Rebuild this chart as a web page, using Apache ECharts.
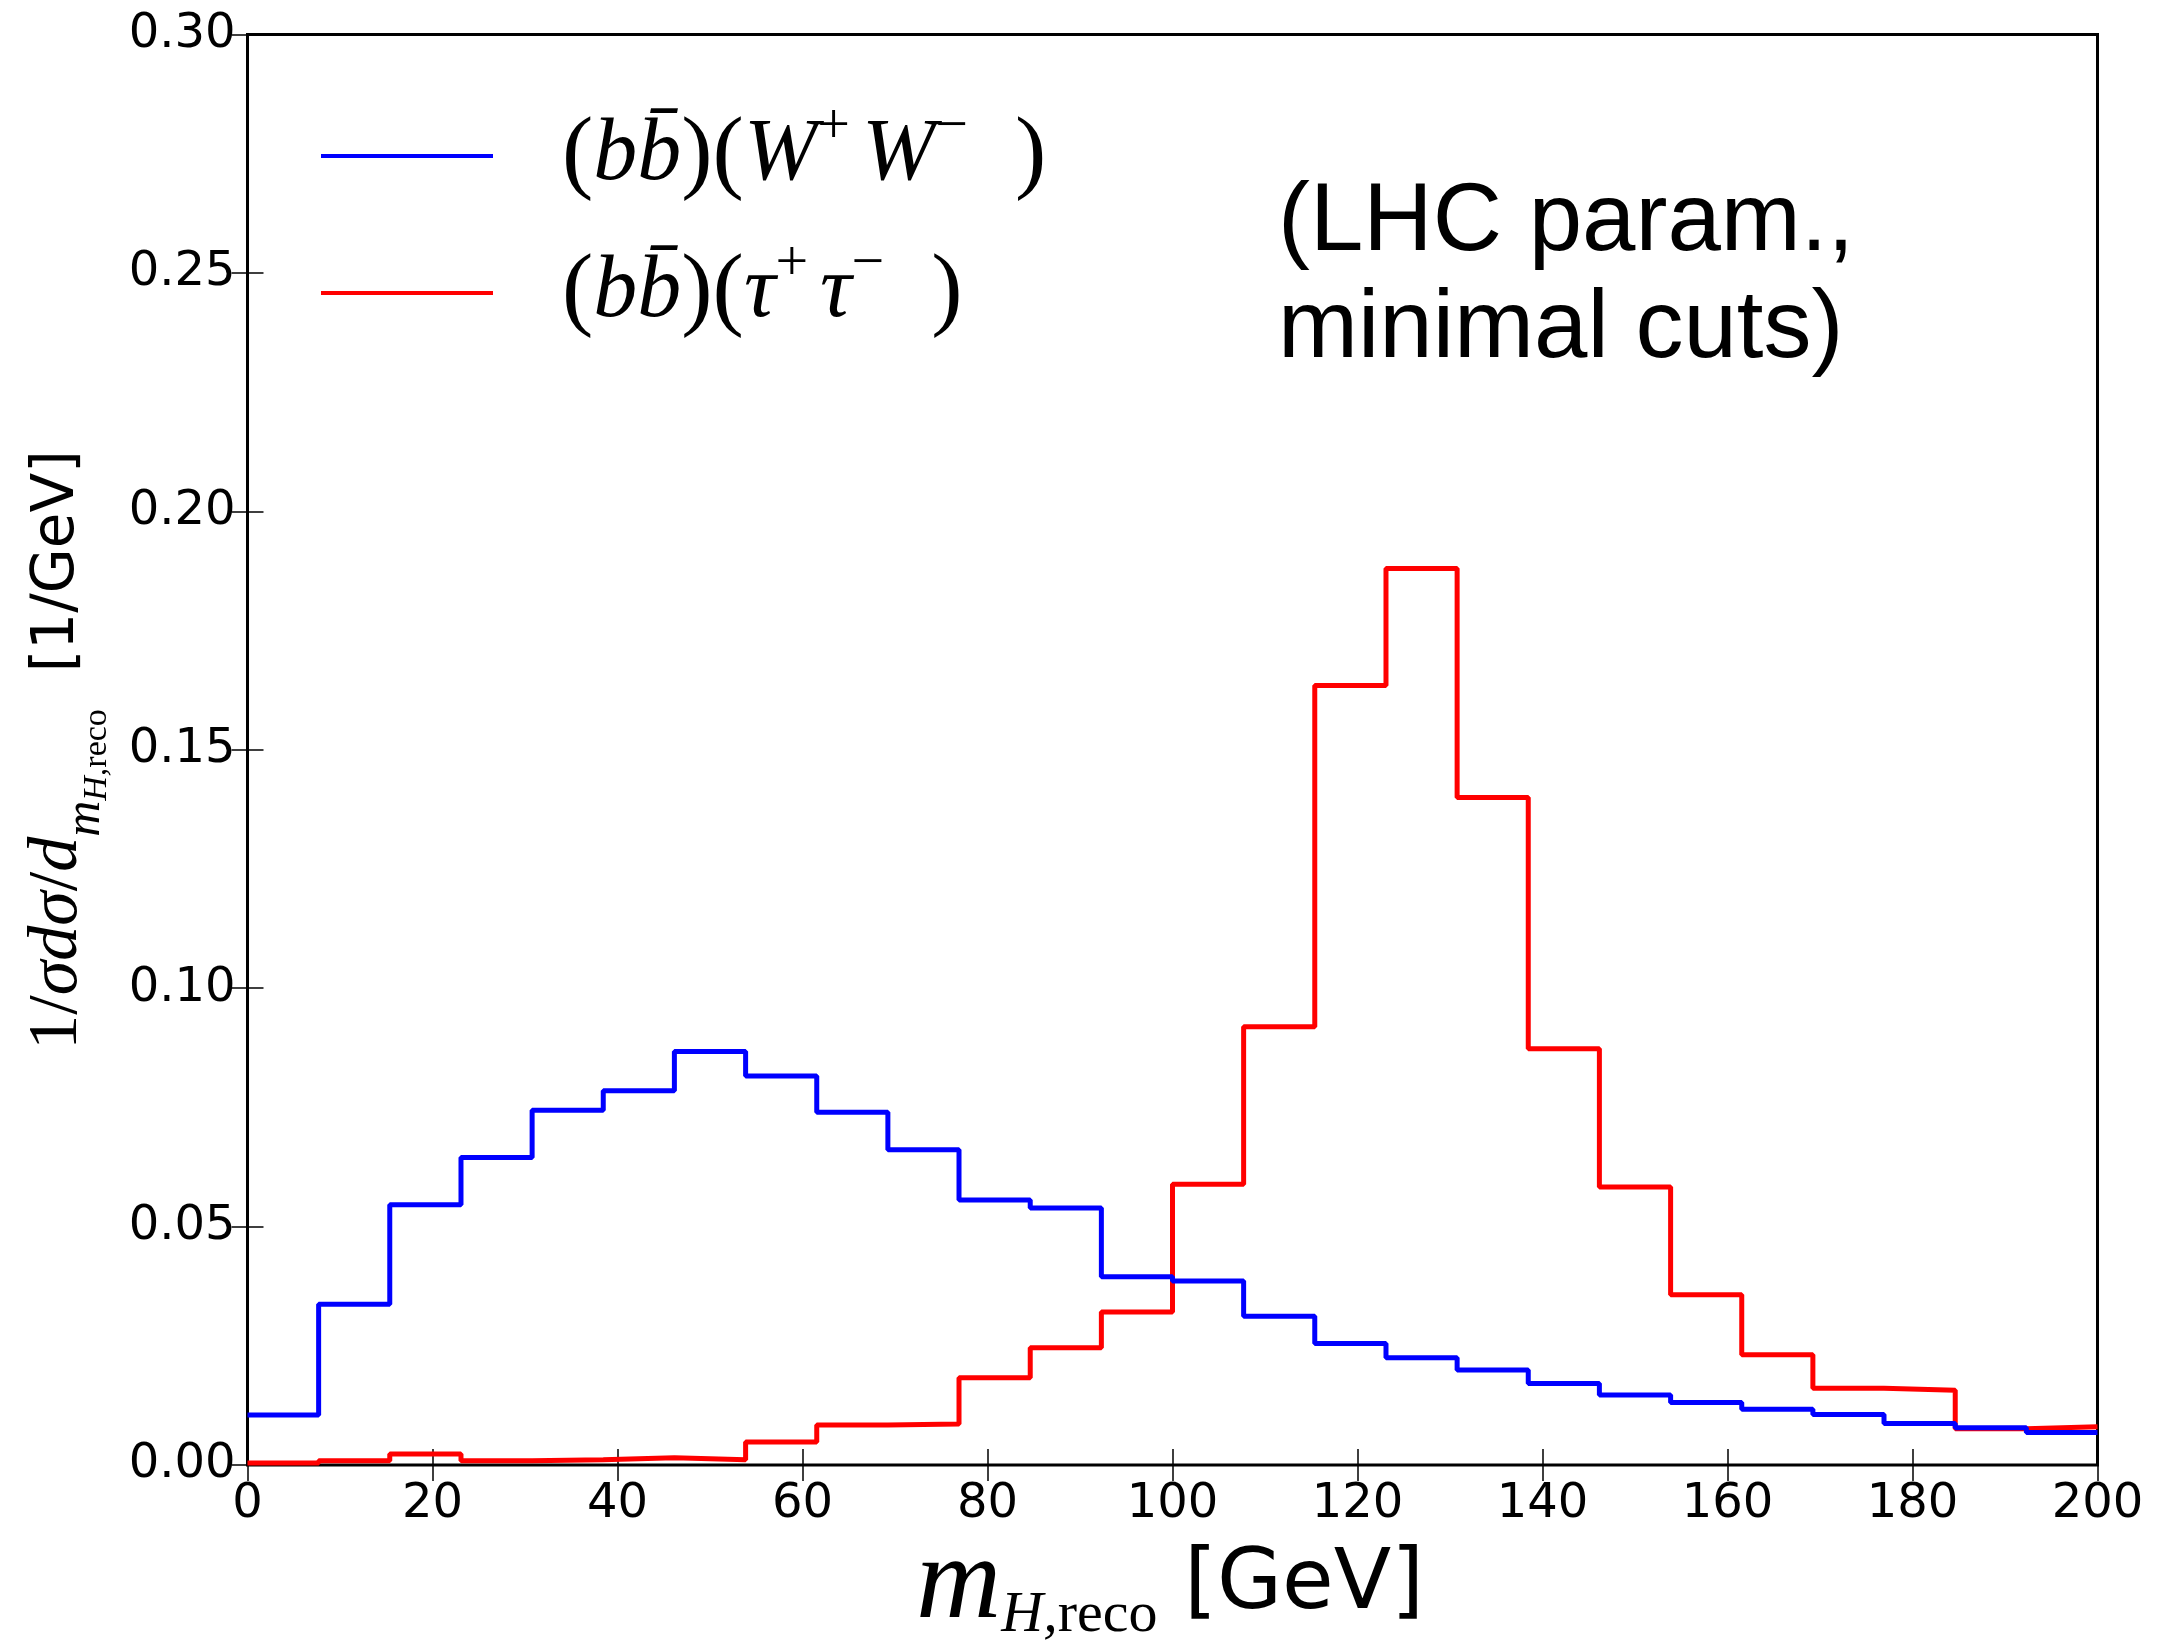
<!DOCTYPE html>
<html>
<head>
<meta charset="utf-8">
<script src="https://cdn.jsdelivr.net/npm/echarts@6/dist/echarts.min.js"></script>
<style>
  html, body { margin: 0; padding: 0; background: #fff; }
  #chart { width: 2168px; height: 1644px; }
</style>
</head>
<body>
<div id="chart"></div>
<script>
// histogram bin edges, m_H,reco [GeV] (26 bins from 0 to 200)
const binEdges = [0, 7.69, 15.38, 23.08, 30.77, 38.46, 46.15, 53.85, 61.54, 69.23, 76.92, 84.62, 92.31,
  100, 107.69, 115.38, 123.08, 130.77, 138.46, 146.15, 153.85, 161.54, 169.23, 176.92, 184.62, 192.31, 200]

// (bb)(W+W-)
const wwValues = [0.0105, 0.0337, 0.0546, 0.0645, 0.0744, 0.0785, 0.0867, 0.0816, 0.0740, 0.0661, 0.0556, 0.0539, 0.0395,
  0.0386, 0.0312, 0.0255, 0.0225, 0.0199, 0.0171, 0.0147, 0.0131, 0.0117, 0.0106, 0.0087, 0.0078, 0.0068]

// (bb)(tau+tau-)
const tautauValues = [0.0004, 0.0009, 0.0023, 0.0009, 0.0011, 0.0015, 0.0011, 0.0048, 0.0084, 0.0086, 0.0183, 0.0246, 0.0321,
  0.0589, 0.0919, 0.1635, 0.1880, 0.1400, 0.0873, 0.0583, 0.0357, 0.0231, 0.0161, 0.0157, 0.0076, 0.0080]

const xTicks = [0, 20, 40, 60, 80, 100, 120, 140, 160, 180, 200]
const yTicks = ['0.00', '0.05', '0.10', '0.15', '0.20', '0.25', '0.30']

const SERIF = 'Liberation Serif'
const SANS = 'DejaVu Sans'

// histtype='step': one point per left edge, plus the last right edge
function stepData(vals) {
  const pts = vals.map((v, i) => [binEdges[i], v])
  pts.push([binEdges[binEdges.length - 1], vals[vals.length - 1]])
  return pts
}

const chart = echarts.init(document.getElementById('chart'))

const tickStyle = { show: true, inside: true, length: 16, lineStyle: { color: '#000', width: 1.5 } }

const legendRich = {
  p: { fontFamily: SERIF, fontSize: 94, lineHeight: 100, color: '#000' },
  i: { fontFamily: SERIF, fontStyle: 'italic', fontSize: 88, lineHeight: 100, color: '#000' },
  sup: { fontFamily: SERIF, fontSize: 58, height: 44, lineHeight: 100, verticalAlign: 'top', color: '#000' },
  gap: { fontFamily: SERIF, fontSize: 48, lineHeight: 100, color: '#000' },
}

const legendLabels = {
  ww: '{p|(}{i|bb\u0304}{p|)(}{i|W}{sup|+}{gap| }{i|W}{sup|\u2212}{p|  )}',
  tautau: '{p|(}{i|bb\u0304}{p|)(}{i|\u03c4}{sup|+}{gap| }{i|\u03c4}{sup|\u2212}{p|  )}',
}

const option = {
  animation: false,
  backgroundColor: '#fff',
  grid: {
    left: 247.5,
    right: 70.5,
    top: 34.5,
    bottom: 179,
    show: true,
    borderColor: '#000',
    borderWidth: 3,
    backgroundColor: 'transparent',
  },
  legend: {
    data: ['ww', 'tautau'],
    orient: 'vertical',
    left: 316,
    top: 94,
    icon: 'rect',
    itemWidth: 172,
    itemHeight: 4,
    itemGap: 33,
    selectedMode: false,
    formatter: (name) => legendLabels[name],
    textStyle: { padding: [0, 0, 0, 64], rich: legendRich },
  },
  xAxis: [
    {
      type: 'value',
      min: xTicks[0],
      max: xTicks[xTicks.length - 1],
      interval: 20,
      axisLine: { show: false },
      axisTick: tickStyle,
      splitLine: { show: false },
      axisLabel: { color: '#000', fontFamily: SANS, fontSize: 48, margin: 16, showMaxLabel: true, showMinLabel: true },
    },
    {
      type: 'value',
      position: 'top',
      min: xTicks[0],
      max: xTicks[xTicks.length - 1],
      interval: 20,
      axisLine: { show: false },
      axisTick: tickStyle,
      splitLine: { show: false },
      axisLabel: { show: false },
    },
  ],
  yAxis: [
    {
      type: 'value',
      min: 0,
      max: 0.3,
      interval: 0.05,
      axisLine: { show: false },
      axisTick: tickStyle,
      splitLine: { show: false },
      axisLabel: {
        color: '#000', fontFamily: SANS, fontSize: 48, margin: 12,
        formatter: (v) => yTicks[Math.round(v / 0.05)],
      },
    },
    {
      type: 'value',
      position: 'right',
      min: 0,
      max: 0.3,
      interval: 0.05,
      axisLine: { show: false },
      axisTick: tickStyle,
      splitLine: { show: false },
      axisLabel: { show: false },
    },
  ],
  series: [
    {
      name: 'ww',
      type: 'line',
      step: 'end',
      data: stepData(wwValues),
      showSymbol: false,
      color: '#0000ff',
      lineStyle: { width: 5, color: '#0000ff' },
      z: 4,
    },
    {
      name: 'tautau',
      type: 'line',
      step: 'end',
      data: stepData(tautauValues),
      showSymbol: false,
      color: '#ff0000',
      lineStyle: { width: 5, color: '#ff0000' },
      z: 3,
    },
  ],
  graphic: [
    // annotation
    {
      type: 'text',
      left: 1578 - 300,
      top: 170,
      style: {
        text: '(LHC param.,\nminimal cuts)',
        width: 600,
        align: 'center',
        fontFamily: 'Liberation Sans',
        fontSize: 96,
        lineHeight: 107,
        fill: '#000',
      },
      z: 10,
    },
    // x axis title
    {
      type: 'text',
      x: 1170,
      y: 1586,
      style: {
        text: '{m|m}{s|H,}{r|reco}{u| [GeV]}',
        align: 'center',
        verticalAlign: 'middle',
        rich: {
          m: { fontFamily: SERIF, fontStyle: 'italic', fontSize: 118, lineHeight: 130, fill: '#000' },
          s: { fontFamily: SERIF, fontStyle: 'italic', fontSize: 58, height: 70, lineHeight: 130, verticalAlign: 'bottom', fill: '#000' },
          r: { fontFamily: SERIF, fontSize: 58, height: 70, lineHeight: 130, verticalAlign: 'bottom', fill: '#000' },
          u: { fontFamily: SANS, fontSize: 84, lineHeight: 130, fill: '#000' },
        },
      },
      z: 10,
    },
    // y axis title
    {
      type: 'text',
      x: 58,
      y: 750,
      rotation: Math.PI / 2,
      style: {
        text: '{n|1/}{i|\u03c3d\u03c3}{n|/}{i|d}{s|m}{ss|H,}{sr|reco}{u|  [1/GeV]}',
        align: 'center',
        verticalAlign: 'middle',
        rich: {
          n: { fontFamily: SERIF, fontSize: 70, lineHeight: 100, fill: '#000' },
          i: { fontFamily: SERIF, fontStyle: 'italic', fontSize: 70, lineHeight: 100, fill: '#000' },
          s: { fontFamily: SERIF, fontStyle: 'italic', fontSize: 50, height: 44, lineHeight: 100, verticalAlign: 'bottom', fill: '#000' },
          ss: { fontFamily: SERIF, fontStyle: 'italic', fontSize: 34, height: 22, lineHeight: 100, verticalAlign: 'bottom', fill: '#000' },
          sr: { fontFamily: SERIF, fontSize: 34, height: 22, lineHeight: 100, verticalAlign: 'bottom', fill: '#000' },
          u: { fontFamily: SANS, fontSize: 58, lineHeight: 100, fill: '#000' },
        },
      },
      z: 10,
    },
  ],
}

chart.setOption(option)
</script>
</body>
</html>
